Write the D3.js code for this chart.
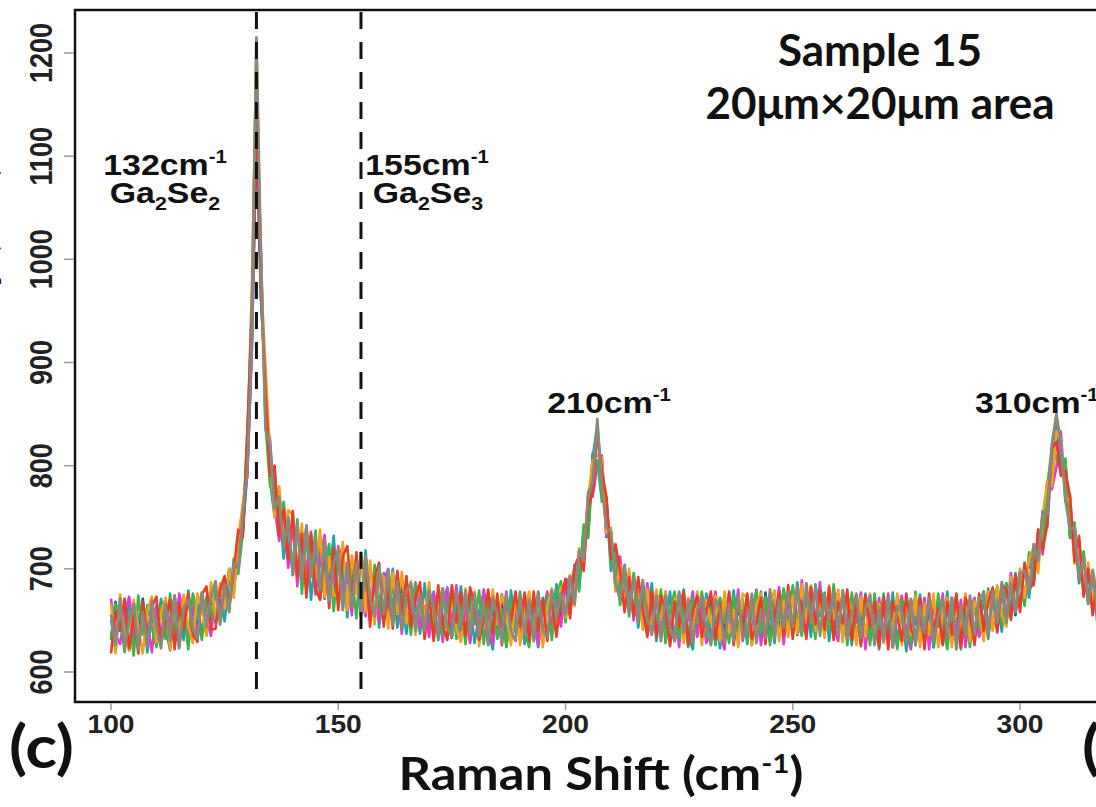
<!DOCTYPE html>
<html>
<head>
<meta charset="utf-8">
<script src="https://cdn.jsdelivr.net/npm/d3@7"></script>
<style>
  body { margin: 0; background: #fff; }
  svg { display: block; }
</style>
</head>
<body>
<div id="chart"></div>
<script>
// Raman shift grid (cm-1), one reading per wavenumber
const shift = d3.range(100, 319);

// spectra, 7 spots
const specBlue = [632,668,640,655,621,660,637,671,629,650,662,628,657,639,674,633,659,628,667,641,670,636,675,648,682,660,700,678,722,736,795,915,1125,960,880,790,782,731,758,712,745,698,736,689,724,680,722,671,714,676,712,668,705,664,703,660,699,662,694,655,690,652,688,648,684,646,681,643,679,640,676,638,673,641,675,633,670,637,672,630,669,634,673,628,666,637,675,625,663,640,671,629,668,634,677,628,670,641,682,650,690,656,703,682,735,736,812,800,805,731,735,684,707,665,695,655,688,648,680,642,676,637,671,633,669,631,673,628,667,636,674,630,669,627,671,635,676,629,665,638,672,626,668,634,677,630,671,639,680,641,681,636,679,642,683,637,678,640,676,635,675,633,672,630,670,628,668,631,669,627,667,629,672,625,666,632,670,626,664,630,671,624,668,628,665,631,673,627,667,633,668,635,674,637,676,641,682,648,690,655,697,666,711,685,733,718,783,778,832,800,802,733,742,690,714,670,698,655,686];
const specTeal = [651,622,665,637,670,631,650,668,619,657,637,671,643,621,665,655,631,679,643,667,637,665,680,648,670,649,690,682,728,735,825,970,1200,965,880,785,750,762,710,751,694,740,704,741,670,711,725,678,691,732,666,702,653,707,689,654,718,668,696,643,696,666,700,643,675,637,681,664,637,686,645,678,631,666,682,638,652,683,633,666,628,658,677,640,622,670,654,632,679,644,666,627,674,648,624,672,662,639,685,658,686,664,704,686,740,735,808,840,770,765,698,715,672,704,666,690,643,677,657,686,630,666,642,678,630,657,680,637,622,670,646,676,632,655,623,674,642,679,636,660,627,671,649,678,635,660,628,678,648,672,636,687,647,670,634,685,654,677,630,665,676,637,659,626,674,643,676,630,653,622,668,640,677,628,656,620,671,646,675,634,658,624,670,638,678,630,652,622,666,654,628,672,646,681,642,672,639,686,660,696,663,702,672,712,704,756,740,810,848,795,803,730,740,686,713,671,691,648,688];
const specMagenta = [671,636,627,657,673,641,624,664,648,619,665,633,670,646,628,676,657,632,672,629,677,652,635,680,656,691,663,702,702,760,790,915,1130,1010,845,825,760,727,755,701,744,683,729,698,736,675,710,733,676,686,722,670,696,655,711,672,654,700,683,650,689,700,648,678,637,687,656,687,643,664,634,676,660,629,681,646,684,635,663,628,674,639,680,656,627,667,644,678,630,662,632,677,642,670,626,658,678,643,670,644,683,694,669,716,706,775,770,800,810,732,733,682,712,670,694,650,683,645,686,650,678,634,678,645,664,624,674,650,678,634,666,628,656,678,636,622,672,646,680,630,664,634,680,626,661,676,641,682,627,668,682,643,689,640,674,652,687,635,676,645,630,679,644,673,648,677,622,662,628,672,636,676,624,658,674,638,622,668,644,672,622,666,644,676,626,672,638,670,624,660,672,634,678,642,678,638,681,654,696,658,698,668,714,684,734,714,785,777,798,833,765,772,709,726,675,702,657,687,650];
const specGreen = [631,666,655,619,657,616,674,636,665,643,624,665,632,676,644,625,666,622,676,658,631,673,651,682,648,679,658,710,695,735,835,925,1170,1000,840,780,795,742,765,719,702,748,676,730,698,737,670,703,724,659,710,722,666,697,652,712,686,650,704,670,648,692,662,696,647,671,636,686,671,635,683,646,678,635,661,682,632,665,627,676,646,679,627,666,674,632,660,624,670,638,678,640,624,668,658,630,674,631,674,688,648,689,696,678,743,730,800,805,765,770,703,720,665,692,654,696,662,685,636,672,648,680,628,659,678,632,664,624,672,648,678,634,664,626,672,656,628,674,640,670,630,660,678,638,673,626,671,650,681,638,684,651,635,680,662,632,681,665,640,685,644,675,626,677,634,659,672,626,676,642,676,630,656,622,670,662,626,678,634,654,670,628,676,646,622,662,674,632,656,624,670,642,678,632,672,682,647,686,650,686,694,664,716,688,738,718,780,817,808,797,807,732,745,692,717,666,697,659,684];
const specOrange = [666,618,675,635,621,670,644,618,659,673,629,657,672,622,670,637,675,644,628,676,663,635,687,652,686,661,700,672,730,763,800,960,1210,980,895,810,750,780,728,757,752,698,744,676,728,689,738,672,712,674,674,726,660,713,676,716,658,708,646,696,692,642,696,656,697,647,688,636,681,652,687,632,668,681,637,676,642,629,681,644,678,625,663,630,680,646,674,658,626,676,626,658,678,634,674,624,664,681,638,682,653,694,664,720,703,770,805,810,808,735,740,678,704,662,700,658,688,641,680,638,680,650,678,627,670,676,628,672,640,678,626,670,648,674,630,678,638,660,624,676,672,626,666,676,633,668,679,630,669,634,674,637,685,648,684,640,673,633,684,651,680,629,674,659,626,673,634,676,630,666,628,664,644,676,626,670,636,674,624,666,636,676,624,658,672,624,666,642,676,630,668,658,630,678,640,684,655,644,692,662,700,672,710,720,696,751,785,780,833,825,770,765,705,728,677,706,663,695,648];
const specRed = [618,658,641,671,623,656,618,668,633,663,673,627,650,670,622,667,641,676,636,630,675,683,641,642,680,693,664,698,738,731,830,950,1140,975,870,790,800,732,758,709,756,692,734,672,734,681,670,722,662,720,660,712,722,667,716,658,710,644,692,706,644,684,642,698,653,693,644,672,687,632,675,630,684,645,631,684,648,677,635,682,666,631,649,680,638,676,626,670,648,678,644,676,630,678,640,670,630,673,634,672,690,652,702,713,698,760,775,833,795,770,710,724,698,658,692,654,692,661,634,678,634,674,660,625,668,644,678,626,658,674,634,660,678,632,666,628,678,626,668,644,676,632,646,672,627,674,651,678,635,684,632,677,663,632,682,646,679,641,682,631,668,647,680,631,670,625,674,644,668,624,672,622,668,654,630,676,642,630,672,622,676,640,662,626,668,636,676,624,672,658,626,676,640,668,682,640,685,680,652,694,658,706,680,686,738,718,743,817,823,790,795,770,707,732,673,700,655,691,644];
const specGray = [656,626,671,623,649,666,622,658,625,669,643,623,666,630,674,623,663,670,642,632,677,643,673,688,646,685,660,706,700,753,795,930,1215,995,835,820,758,770,720,749,694,744,690,742,692,729,680,728,668,706,718,660,706,663,706,656,712,672,654,702,656,698,646,688,641,679,686,640,675,640,679,662,634,681,643,634,678,641,679,636,676,635,669,626,672,656,628,676,640,630,674,636,670,630,678,640,634,679,652,676,656,692,666,718,708,772,785,845,780,740,736,686,670,702,658,692,648,689,654,636,674,630,674,643,630,678,638,670,628,660,674,642,626,670,660,628,666,630,674,634,638,676,628,660,633,680,633,670,643,678,644,683,639,686,648,682,635,675,650,679,636,679,632,657,676,633,662,674,626,662,630,672,624,664,658,628,670,626,664,638,672,630,654,670,638,672,622,664,636,674,636,672,676,634,678,648,687,648,686,658,696,698,678,724,708,756,753,820,850,823,767,738,741,690,711,666,699,657,680];

const spectra = [specBlue, specTeal, specMagenta, specGreen, specOrange, specRed, specGray];
const spectraColors = ['#1d4f94', '#1fa3a6', '#e23cd2', '#3cb54b', '#f5a01a', '#ea3c28', '#8a897b'];

const xTicks = [100, 150, 200, 250, 300];
const yTicks = [600, 700, 800, 900, 1000, 1100, 1200];
const refLines = [132, 155];

// svg + plot box (right side runs off the page like the cropped figure)
const svgWidth = 1096, svgHeight = 807;
const box = { left: 75, top: 10, bottom: 702, right: 1110 };
const stretch = 1.13; // the original figure is a bit wider than tall

const svg = d3.select('#chart').append('svg')
    .attr('width', svgWidth)
    .attr('height', svgHeight);

const xScale = d3.scaleLinear().domain([100, 300]).range([111, 1020]);
const yScale = d3.scaleLinear().domain([600, 1200]).range([672, 53]);

svg.append('clipPath').attr('id', 'plotClip')
    .append('rect')
    .attr('x', box.left).attr('y', box.top)
    .attr('width', box.right - box.left).attr('height', box.bottom - box.top);

// spectra
const line = d3.line()
    .x((d, i) => xScale(shift[i]))
    .y(d => yScale(d));

svg.append('g').attr('clip-path', 'url(#plotClip)')
    .selectAll('path')
    .data(spectra).enter()
    .append('path')
    .attr('d', d => line(d.slice(0, shift.length)))
    .attr('fill', 'none')
    .attr('stroke', (d, i) => spectraColors[i])
    .attr('stroke-width', (d, i) => i === spectra.length - 1 ? 2.8 : 2.6)
    .attr('stroke-linejoin', 'round');

// dashed markers
svg.selectAll('line.ref')
    .data(refLines).enter()
    .append('line')
    .attr('class', 'ref')
    .attr('x1', d => xScale(d)).attr('x2', d => xScale(d))
    .attr('y1', box.top + 2).attr('y2', box.bottom)
    .attr('stroke', '#111')
    .attr('stroke-width', 3)
    .attr('stroke-dasharray', '17,13');

// frame
svg.append('path')
    .attr('d', `M${box.right},${box.top} H${box.left} V${box.bottom} H${box.right}`)
    .attr('fill', 'none')
    .attr('stroke', '#111')
    .attr('stroke-width', 2.5);

// ticks
svg.selectAll('line.xtick')
    .data(xTicks).enter()
    .append('line')
    .attr('x1', d => xScale(d)).attr('x2', d => xScale(d))
    .attr('y1', box.bottom + 1).attr('y2', box.bottom + 8)
    .attr('stroke', '#999').attr('stroke-width', 1.5);
svg.selectAll('line.ytick')
    .data(yTicks).enter()
    .append('line')
    .attr('x1', 64).attr('x2', box.left - 1)
    .attr('y1', d => yScale(d)).attr('y2', d => yScale(d))
    .attr('stroke', '#999').attr('stroke-width', 1.5);

// tick labels
svg.selectAll('text.xlab')
    .data(xTicks).enter()
    .append('text')
    .attr('transform', d => `translate(${xScale(d)}, 733) scale(${stretch},1)`)
    .attr('text-anchor', 'middle')
    .style('font', 'bold 25px "Liberation Sans", Arial, sans-serif')
    .style('fill', '#222')
    .text(d => d);
svg.selectAll('text.ylab')
    .data(yTicks).enter()
    .append('text')
    .attr('transform', d => `translate(52, ${yScale(d)}) scale(${stretch},1) rotate(-90)`)
    .attr('text-anchor', 'middle')
    .style('font', 'bold 27px "Liberation Sans", Arial, sans-serif')
    .style('fill', '#222')
    .text(d => d);

// peak labels
function peakLabel(x, y, anchor, main, sup) {
    const t = svg.append('text')
        .attr('transform', `translate(${x}, ${y}) scale(${stretch},1)`)
        .attr('text-anchor', anchor)
        .style('font', 'bold 30px "Liberation Sans", Arial, sans-serif')
        .style('fill', '#111');
    t.append('tspan').text(main);
    t.append('tspan').attr('dy', -12).style('font-size', '18px').text(sup);
    return t;
}
function formulaLabel(x, y, a, n1, b, n2) {
    const t = svg.append('text')
        .attr('transform', `translate(${x}, ${y}) scale(${stretch},1)`)
        .attr('text-anchor', 'middle')
        .style('font', 'bold 30px "Liberation Sans", Arial, sans-serif')
        .style('fill', '#111');
    t.append('tspan').text(a);
    t.append('tspan').attr('dy', 7).style('font-size', '19px').text(n1);
    t.append('tspan').attr('dy', -7).text(b);
    t.append('tspan').attr('dy', 7).style('font-size', '19px').text(n2);
}
peakLabel(165, 175, 'middle', '132cm', '-1');
formulaLabel(165, 203, 'Ga', '2', 'Se', '2');
peakLabel(427, 175, 'middle', '155cm', '-1');
formulaLabel(428, 203, 'Ga', '2', 'Se', '3');
peakLabel(609, 413, 'middle', '210cm', '-1');
peakLabel(975, 413, 'start', '310cm', '-1');

// titles
const titleFont = 'bold 44px Lato, "Open Sans", sans-serif';
svg.append('text')
    .attr('x', 880).attr('y', 66)
    .attr('text-anchor', 'middle')
    .style('font', titleFont).style('fill', '#111')
    .text('Sample 15');
svg.append('text')
    .attr('x', 880).attr('y', 119)
    .attr('text-anchor', 'middle')
    .style('font', titleFont).style('fill', '#111')
    .text('20μm×20μm area');

const xTitle = svg.append('text')
    .attr('transform', 'translate(601, 790) scale(1.1,1)')
    .attr('text-anchor', 'middle')
    .style('font', 'bold 46px Lato, "Open Sans", sans-serif').style('fill', '#111');
xTitle.append('tspan').text('Raman Shift (cm');
xTitle.append('tspan').attr('dy', -17).style('font-size', '27px').text('-1');
xTitle.append('tspan').attr('dy', 17).text(')');

// y title, mostly cropped off the left edge
svg.append('text')
    .attr('transform', 'translate(-6, 165) rotate(-90)')
    .attr('text-anchor', 'end')
    .style('font', titleFont).style('fill', '#111')
    .text('Intensity (a.u.)');

// panel letters
const panelFont = 'bold 60px Lato, "Open Sans", sans-serif';
svg.append('text')
    .attr('transform', 'translate(9, 768) scale(1.1,1)')
    .style('font', panelFont).style('fill', '#111')
    .text('(c)');
svg.append('text')
    .attr('transform', 'translate(1082, 768) scale(1.1,1)')
    .style('font', panelFont).style('fill', '#111')
    .text('(d)');
</script>
</body>
</html>
